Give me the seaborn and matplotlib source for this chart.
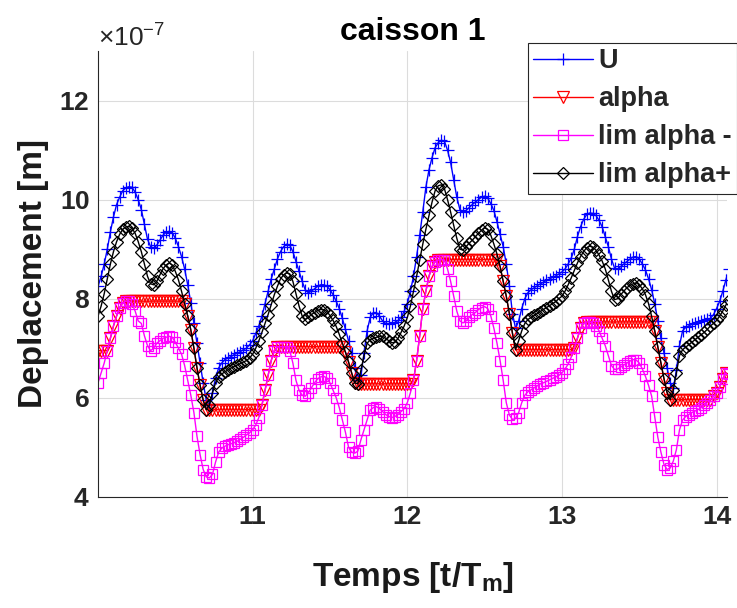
import numpy as np
import pandas as pd
import matplotlib
matplotlib.use("Agg")
import matplotlib.pyplot as plt
import matplotlib.ticker as mtick
import seaborn as sns

# -- Data (displacement in units of 1e-7 m, one sample every 0.02 T_m) ----
t = np.round(np.arange(10.0, 14.0801, 0.02), 2)

u = [
    8.25, 8.45, 8.70, 9.00, 9.35, 9.65, 9.90, 10.05, 10.18, 10.24,
    10.26, 10.25, 10.15, 10.00, 9.80, 9.50, 9.20, 9.05, 9.02, 9.08,
    9.18, 9.28, 9.34, 9.36, 9.33, 9.22, 9.05, 8.85, 8.60, 8.28,
    7.92, 7.50, 7.10, 6.70, 6.30, 5.95, 5.85, 6.10, 6.40, 6.60,
    6.70, 6.77, 6.80, 6.83, 6.87, 6.90, 6.93, 6.97, 7.00, 7.07,
    7.15, 7.30, 7.45, 7.65, 7.90, 8.15, 8.40, 8.60, 8.80, 8.95,
    9.05, 9.10, 9.08, 8.95, 8.75, 8.55, 8.35, 8.18, 8.12, 8.15,
    8.20, 8.25, 8.28, 8.28, 8.25, 8.18, 8.08, 7.95, 7.80, 7.60,
    7.38, 7.15, 6.90, 6.60, 6.35, 6.45, 6.90, 7.35, 7.62, 7.72,
    7.72, 7.65, 7.55, 7.50, 7.48, 7.50, 7.52, 7.56, 7.62, 7.75,
    7.90, 8.15, 8.45, 8.85, 9.28, 9.75, 10.25, 10.60, 10.85, 11.05,
    11.15, 11.20, 11.18, 11.00, 10.75, 10.40, 10.05, 9.80, 9.75, 9.78,
    9.84, 9.90, 9.95, 10.00, 10.05, 10.07, 10.03, 9.92, 9.78, 9.55,
    9.30, 9.05, 8.70, 8.25, 7.70, 7.40, 7.55, 7.80, 8.00, 8.12,
    8.18, 8.22, 8.26, 8.30, 8.33, 8.37, 8.40, 8.43, 8.46, 8.50,
    8.54, 8.60, 8.70, 8.82, 9.00, 9.25, 9.45, 9.60, 9.70, 9.73,
    9.72, 9.68, 9.58, 9.45, 9.25, 9.05, 8.80, 8.62, 8.60, 8.65,
    8.70, 8.75, 8.80, 8.84, 8.85, 8.80, 8.70, 8.58, 8.40, 8.18,
    7.90, 7.55, 7.20, 6.90, 6.60, 6.30, 6.20, 6.55, 7.05, 7.35,
    7.42, 7.45, 7.48, 7.50, 7.52, 7.54, 7.56, 7.58, 7.60, 7.68,
    7.80, 7.95, 8.15, 8.38, 8.60,
]

alpha = [
    6.95, 6.95, 6.95, 6.95, 7.20, 7.45, 7.65, 7.82, 7.92, 7.95,
    7.95, 7.95, 7.95, 7.95, 7.95, 7.95, 7.95, 7.95, 7.95, 7.95,
    7.95, 7.95, 7.95, 7.95, 7.95, 7.95, 7.95, 7.95, 7.90, 7.65,
    7.37, 7.00, 6.60, 6.25, 5.95, 5.76, 5.76, 5.76, 5.76, 5.76,
    5.76, 5.76, 5.76, 5.76, 5.76, 5.76, 5.76, 5.76, 5.76, 5.76,
    5.76, 5.76, 5.76, 5.85, 6.15, 6.45, 6.75, 6.95, 7.02, 7.03,
    7.03, 7.03, 7.03, 7.03, 7.03, 7.03, 7.03, 7.03, 7.03, 7.03,
    7.03, 7.03, 7.03, 7.03, 7.03, 7.03, 7.03, 7.03, 7.03, 7.03,
    6.92, 6.72, 6.50, 6.30, 6.28, 6.28, 6.28, 6.28, 6.28, 6.28,
    6.28, 6.28, 6.28, 6.28, 6.28, 6.28, 6.28, 6.28, 6.28, 6.28,
    6.28, 6.28, 6.35, 6.75, 7.25, 7.80, 8.15, 8.45, 8.65, 8.75,
    8.78, 8.79, 8.79, 8.79, 8.79, 8.79, 8.79, 8.79, 8.79, 8.79,
    8.79, 8.79, 8.79, 8.79, 8.79, 8.79, 8.79, 8.79, 8.79, 8.79,
    8.65, 8.35, 8.05, 7.70, 7.30, 6.97, 6.97, 6.97, 6.97, 6.97,
    6.97, 6.97, 6.97, 6.97, 6.97, 6.97, 6.97, 6.97, 6.97, 6.97,
    6.97, 6.97, 6.97, 6.97, 7.00, 7.20, 7.40, 7.50, 7.53, 7.53,
    7.53, 7.53, 7.53, 7.53, 7.53, 7.53, 7.53, 7.53, 7.53, 7.53,
    7.53, 7.53, 7.53, 7.53, 7.53, 7.53, 7.53, 7.53, 7.53, 7.53,
    7.35, 7.02, 6.70, 6.38, 6.10, 5.96, 5.96, 5.96, 5.96, 5.96,
    5.96, 5.96, 5.96, 5.96, 5.96, 5.96, 5.96, 5.96, 5.96, 6.03,
    6.10, 6.22, 6.38, 6.50, 6.48,
]

lim_minus = [
    6.30, 6.50, 6.70, 6.95, 7.20, 7.45, 7.65, 7.82, 7.92, 7.95,
    7.95, 7.90, 7.75, 7.55, 7.50, 7.25, 7.05, 6.95, 7.00, 7.10,
    7.15, 7.20, 7.22, 7.24, 7.22, 7.12, 7.00, 6.88, 6.65, 6.35,
    6.05, 5.70, 5.22, 4.85, 4.55, 4.40, 4.38, 4.45, 4.70, 4.90,
    4.98, 5.02, 5.05, 5.07, 5.09, 5.12, 5.16, 5.20, 5.25, 5.29,
    5.35, 5.45, 5.60, 5.85, 6.15, 6.45, 6.75, 6.95, 7.02, 7.03,
    7.03, 7.02, 6.95, 6.70, 6.35, 6.15, 6.05, 6.03, 6.10, 6.20,
    6.30, 6.38, 6.42, 6.43, 6.40, 6.30, 6.15, 6.00, 5.80, 5.55,
    5.30, 5.00, 4.90, 4.88, 4.92, 5.15, 5.35, 5.55, 5.75, 5.80,
    5.82, 5.78, 5.72, 5.66, 5.62, 5.60, 5.62, 5.66, 5.72, 5.78,
    5.90, 6.10, 6.35, 6.75, 7.25, 7.80, 8.15, 8.45, 8.65, 8.75,
    8.78, 8.79, 8.78, 8.60, 8.35, 8.05, 7.75, 7.55, 7.51, 7.55,
    7.62, 7.68, 7.72, 7.78, 7.82, 7.84, 7.80, 7.65, 7.40, 7.10,
    6.75, 6.35, 5.90, 5.65, 5.56, 5.58, 5.70, 5.90, 6.05, 6.12,
    6.16, 6.20, 6.24, 6.28, 6.30, 6.33, 6.36, 6.39, 6.42, 6.45,
    6.50, 6.58, 6.68, 6.82, 7.00, 7.20, 7.40, 7.50, 7.53, 7.53,
    7.50, 7.45, 7.35, 7.20, 7.05, 6.85, 6.65, 6.57, 6.58, 6.62,
    6.66, 6.70, 6.74, 6.77, 6.76, 6.70, 6.58, 6.43, 6.25, 6.03,
    5.62, 5.20, 4.90, 4.65, 4.55, 4.58, 4.72, 4.95, 5.35, 5.55,
    5.62, 5.66, 5.70, 5.73, 5.76, 5.80, 5.85, 5.90, 5.96, 6.03,
    6.10, 6.22, 6.38, 6.50, 6.48,
]

lim_plus = [
    7.65, 7.85, 8.10, 8.40, 8.70, 8.95, 9.15, 9.30, 9.40, 9.45,
    9.46, 9.42, 9.32, 9.15, 8.95, 8.70, 8.45, 8.30, 8.28, 8.35,
    8.48, 8.60, 8.68, 8.72, 8.68, 8.55, 8.38, 8.15, 7.90, 7.65,
    7.37, 7.00, 6.60, 6.25, 5.95, 5.76, 5.85, 6.10, 6.30, 6.42,
    6.48, 6.52, 6.56, 6.60, 6.63, 6.66, 6.69, 6.72, 6.75, 6.80,
    6.88, 7.00, 7.15, 7.32, 7.50, 7.68, 7.88, 8.08, 8.25, 8.40,
    8.48, 8.52, 8.50, 8.35, 8.10, 7.85, 7.65, 7.58, 7.62, 7.68,
    7.72, 7.76, 7.78, 7.78, 7.74, 7.66, 7.56, 7.44, 7.28, 7.10,
    6.92, 6.72, 6.50, 6.30, 6.28, 6.55, 6.85, 7.10, 7.17, 7.20,
    7.22, 7.24, 7.24, 7.20, 7.15, 7.11, 7.12, 7.20, 7.32, 7.45,
    7.62, 7.85, 8.15, 8.45, 8.78, 9.10, 9.40, 9.68, 9.95, 10.18,
    10.28, 10.30, 10.22, 10.00, 9.75, 9.48, 9.22, 9.00, 8.98, 9.05,
    9.12, 9.18, 9.25, 9.32, 9.38, 9.43, 9.40, 9.28, 9.10, 8.90,
    8.65, 8.35, 8.05, 7.70, 7.30, 6.97, 7.15, 7.35, 7.50, 7.58,
    7.62, 7.66, 7.70, 7.74, 7.78, 7.82, 7.86, 7.90, 7.94, 8.00,
    8.05, 8.15, 8.28, 8.42, 8.57, 8.72, 8.85, 8.95, 9.03, 9.06,
    9.04, 8.98, 8.88, 8.76, 8.60, 8.38, 8.15, 7.98, 8.00, 8.08,
    8.15, 8.22, 8.27, 8.30, 8.32, 8.28, 8.20, 8.08, 7.90, 7.64,
    7.35, 7.02, 6.70, 6.38, 6.10, 5.96, 6.15, 6.50, 6.85, 6.97,
    7.02, 7.07, 7.12, 7.17, 7.22, 7.27, 7.32, 7.38, 7.45, 7.50,
    7.56, 7.65, 7.75, 7.87, 7.98,
]

SCALE = 1e-7

# -- Style -------------------------------------------------------------
sns.set_style("white")
plt.rcParams["font.family"] = ["Liberation Sans", "DejaVu Sans"]
plt.rcParams["mathtext.fontset"] = "custom"
plt.rcParams["mathtext.rm"] = "Liberation Sans"
plt.rcParams["mathtext.bf"] = "Liberation Sans:bold"

# name, values, colour, marker, face, marker size
series = [
    ("U", u, "#0000ff", "+", "#0000ff", 8),
    ("alpha", alpha, "#ff0000", "v", "none", 8),
    ("lim alpha -", lim_minus, "#ff00ff", "s", "none", 6.5),
    ("lim alpha+", lim_plus, "#000000", "D", "none", 6),
]

df = pd.DataFrame({"t": t})
for name, vals, *_ in series:
    df[name] = np.array(vals) * SCALE

fig = plt.figure(figsize=(7.37, 6.08), dpi=100)
ax = fig.add_axes([0.133, 0.183, 0.854, 0.733])

for name, vals, color, marker, face, ms in series:
    sns.lineplot(data=df, x="t", y=name, ax=ax, color=color, marker=marker,
                 markersize=ms, markerfacecolor=face, markeredgecolor=color,
                 markeredgewidth=0.9, linewidth=1.0, label=name,
                 sort=False, estimator=None)

ax.set_xlim(10.0, 14.07)
ax.set_ylim(4 * SCALE, 13 * SCALE)
ax.set_xticks([11, 12, 13, 14])
ax.set_yticks(np.array([4, 6, 8, 10, 12]) * SCALE)

fmt = mtick.ScalarFormatter(useMathText=True)
fmt.set_powerlimits((-7, -7))
ax.yaxis.set_major_formatter(fmt)
ax.yaxis.get_offset_text().set_fontsize(19)
ax.yaxis.get_offset_text().set_color("#262626")

ax.grid(True, color="#dcdcdc", linewidth=0.8)
ax.set_axisbelow(True)
for side in ["top", "right"]:
    ax.spines[side].set_visible(False)
for side in ["left", "bottom"]:
    ax.spines[side].set_color("#262626")
    ax.spines[side].set_linewidth(0.8)
ax.tick_params(direction="in", length=4, width=0.8, colors="#262626",
               labelsize=19, pad=6)
for lbl in ax.get_xticklabels() + ax.get_yticklabels():
    lbl.set_fontweight("bold")

ax.set_title("caisson 1", fontsize=23, fontweight="bold", color="black", pad=8)
ax.set_xlabel(r"Temps [t/T$_{\mathbf{m}}$]", fontsize=24, fontweight="bold",
              color="#1a1a1a")
ax.set_ylabel("Deplacement [m]", fontsize=24, fontweight="bold",
              color="#1a1a1a")
ax.xaxis.set_label_coords(0.5, -0.142)
ax.yaxis.set_label_coords(-0.078, 0.5)

leg = ax.legend(loc="upper left", bbox_to_anchor=(528 / 737, 1 - 43 / 608),
                bbox_transform=fig.transFigure, frameon=True, fancybox=False,
                edgecolor="#262626", framealpha=1, borderaxespad=0,
                handlelength=2.2, labelspacing=0.44, borderpad=0.2,
                handletextpad=0.2, prop={"weight": "bold", "size": 19.5})
leg.get_frame().set_linewidth(0.8)

fig.savefig("out.png", dpi=100)
